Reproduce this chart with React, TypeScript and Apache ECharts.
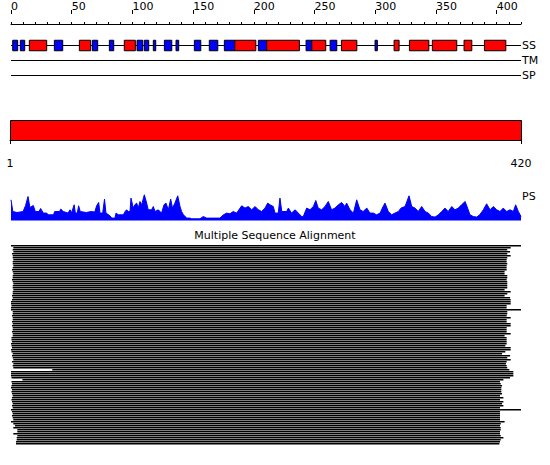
import React, { useEffect, useRef } from 'react';
import * as echarts from 'echarts';

const FONT = 'DejaVu Sans, sans-serif';

// ---------- data ----------
const seqLength = 420;
const rulerLabels = [0, 50, 100, 150, 200, 250, 300, 350, 400];
const scaleLabels = [1, 420];
const trackNames = ['SS', 'TM', 'SP'];

// secondary structure: helices (red) and strands (blue), residue ranges
const helixStart = [15.1, 56.3, 93.3, 184.3, 210.6, 247.7, 272.1, 315.5, 328.1, 347, 373.1, 389.9];
const helixEnd = [29.4, 65.6, 102.4, 201.6, 237.5, 259.2, 284.8, 319.6, 344.1, 367.1, 379.5, 407.5];
const strandStart = [1.4, 7.7, 35.7, 67, 81, 103.8, 109.8, 117.2, 126.3, 135.9, 151, 163.3, 175.7, 203.7, 243, 262.8, 299.8];
const strandEnd = [5.5, 11.3, 42.6, 71.4, 84.6, 108.5, 113.4, 119.2, 132.4, 138.1, 156.3, 170.3, 184.3, 210.6, 247.7, 268.3, 301.7];

// domain bar
const domainStart = [1];
const domainEnd = [420];

// PS profile
const psPos = [0, 1.5, 5, 10, 12, 14, 15.6, 18.4, 20, 23, 24.4, 26.6, 29.4, 30.7, 35, 36, 40, 41, 43, 47, 48.6, 50, 52, 53, 54.6, 55.7, 57, 62, 66, 69, 70.5, 72.2, 73.3, 75.5, 77, 78.2, 81.5, 83, 85.6, 86.5, 88.4, 92.5, 94, 95.2, 96.6, 98, 98.8, 100.7, 102, 103.5, 104.8, 106.2, 107.6, 109.8, 111.7, 113, 115.8, 117.2, 118.6, 121.3, 124, 126, 127.6, 129.6, 131.5, 133, 135, 137.3, 139.2, 140.5, 142, 144.7, 147.4, 148.8, 155.6, 158.4, 161, 166.6, 172, 175, 177.6, 180.3, 183, 185.8, 190, 192.7, 195.4, 198.2, 201, 203.7, 206.4, 209.2, 211.4, 213.3, 216, 217.4, 220.1, 221.5, 223, 227, 228.4, 231, 234, 236.6, 239.4, 240.7, 243.5, 246.2, 249, 251, 253, 255.8, 258.6, 261.3, 264, 266.8, 269.6, 272.3, 275, 276.4, 279.2, 282, 284.7, 287.4, 290, 293, 295.6, 298.4, 301, 304, 305.8, 308, 310.7, 313.5, 316.2, 319, 321.2, 324.5, 327.8, 330, 332.7, 335.4, 338.2, 341, 343.7, 346.4, 349.2, 352, 354.7, 357.4, 360, 363, 365.6, 368.4, 371, 374, 376, 378, 380.7, 383.5, 386, 389, 391.7, 394.5, 397.2, 400, 402.7, 405.4, 408.2, 411, 413.7, 415.6, 417.8, 420];
const psVal = [20.7, 9, 8, 9, 15, 24, 13, 15, 9, 9, 12, 7.4, 7.4, 5.7, 5.7, 9, 9, 11.4, 9, 7.4, 10.7, 8, 15.7, 7.4, 7.4, 14.7, 9, 8, 9, 8.5, 14.7, 18, 7.4, 7.4, 21.4, 7.4, 4.7, 2.4, 2.4, 7.4, 5.7, 5.7, 9, 10.7, 9, 9, 22.4, 12.4, 15.7, 17.4, 12.4, 19, 15.7, 25.7, 17.4, 10.7, 10.7, 14, 9, 10.7, 7.4, 15.7, 17.4, 10.7, 21.4, 12.4, 17.4, 24.7, 14, 9, 5.7, 2.4, 2.4, 1.7, 1.7, 4, 2.4, 2.4, 2.4, 5.7, 7.4, 6.7, 9, 7.4, 14.7, 12.4, 14, 10.7, 14, 10.7, 9, 12.4, 17.4, 15.7, 14, 7.4, 7.4, 22.4, 9, 9, 12.4, 7.4, 10.7, 7.4, 4, 4, 12.4, 10.7, 14, 20, 12.4, 10.7, 14, 19, 10.7, 12.4, 15.7, 18, 14, 17.4, 10.7, 7.4, 20.7, 10.7, 9, 12.4, 7.4, 7.4, 5.7, 7.4, 12.4, 17.4, 9, 5.7, 7.4, 9, 12.4, 14, 24.7, 14, 12.4, 9, 14, 9, 7.4, 4, 3.4, 5.7, 9, 12.4, 9, 14, 10.7, 12.4, 15.7, 19, 12.4, 5.7, 4, 3.4, 5.7, 10.7, 16.7, 10.7, 14, 10.7, 9, 12.4, 9, 10.7, 9, 15.7, 9, 4];

// multiple sequence alignment: aligned range of each sequence
const msaStart = [
  0, 1.9, 1.4, 1.9, 0.8, 1.4, 1.4, 1.9, 1.4, 1.4, 1.9, 1.4, 0.8, 1.4, 1.9, 1.4, 1.4, 0.8, 1.4, 1.9, 1.4, 1.4, 1.9, 1.4, 1.4, 0.8, 1.4, 0.8, 0, 0, 0.4, 0, 0,
  1.4, 1.4, 0.8, 1.4, 1.4, 0.8, 1.4, 0.8, 1.4, 1.4, 0.8, 1.4, 1.4,
  0.4, 0.4, 0.8, 0, 0.4, 0.8, 0, 0.4,
  1.4, 0.8, 1.4, 1.9, 0.8, 1.9, 1.4, 1.9,
  34,
  0, 0, 0, 0.4,
  9.4,
  0.4, 0.8, 0.4, 0, 0.8, 0.4, 0.8, 1.4, 0.8, 0.4, 0.8, 1.4, 0.8, 1.4, 0,
  0.8, 1.4, 0.8, 1.4, 1.9, 0, 1.9, 3.3, 1.9, 5.2, 5.2, 1.9, 5.2, 4.7, 4.7, 4.1, 4.1,
];
const msaEnd = [
  420, 411.5, 408.7, 411, 408.7, 411.5, 408.7, 408.2, 408.2, 408.7, 408.2, 408.2, 408.2, 406.5, 406.5, 408.7, 408.7, 408.2, 408.7, 408.7, 408.7, 408.7, 406.5, 411.5, 408.7, 406.5, 411, 411.5, 411.5, 411.5, 408.2, 408.2, 420,
  408.7, 408.7, 408.2, 411.5, 408.2, 408.2, 411.5, 411.5, 408.2, 408.2, 408.2, 411.5, 406.5,
  408.2, 408.2, 408.2, 408.2, 407.1, 411.5, 411.5, 407.1,
  404.4, 411, 408.7, 411.5, 408.2, 407.6, 408.2, 408.7,
  410.4,
  413.7, 413.7, 413.7, 411,
  405.5,
  402.7, 403.3, 404.4, 403.8, 403.8, 403.8, 404.4, 402.7, 405.5, 402.7, 405.5, 404.4, 405.5, 402.7, 420,
  402.7, 402.7, 402.7, 402.7, 402.7, 406.5, 403.3, 402.7, 403.3, 403.3, 402.7, 402.7, 403.3, 405.5, 403.3, 402.7, 402.2,
];

// ---------- helpers ----------
const segmentSeries = (starts: number[], ends: number[], color: string) => ({
  type: 'custom',
  xAxisIndex: 2,
  yAxisIndex: 1,
  data: starts.map((s, i) => [s, ends[i], 0]),
  encode: { x: [0, 1], y: 2 },
  renderItem: (params: any, api: any) => {
    const a = api.coord([api.value(0), api.value(2)]);
    const b = api.coord([api.value(1), api.value(2)]);
    const h = api.size([0, 1])[1] * 0.7;
    return {
      type: 'rect',
      shape: { x: a[0], y: a[1] - h / 2, width: b[0] - a[0], height: h },
      style: { fill: color, stroke: '#000', lineWidth: 1 },
    };
  },
});

const option: any = {
  animation: false,
  backgroundColor: '#ffffff',
  textStyle: { fontFamily: FONT },
  title: {
    text: 'Multiple Sequence Alignment',
    left: 'center',
    top: 230,
    padding: 0,
    textStyle: { fontSize: 11, fontWeight: 'normal', color: '#000', fontFamily: FONT },
  },
  graphic: [
    { type: 'text', left: 522, top: 191, style: { text: 'PS', fill: '#000', font: '11px DejaVu Sans' } },
  ],
  grid: [
    { left: 11, width: 510, top: 14, height: 10 },
    { left: 11, width: 510, top: 38, height: 45 },
    { left: 10, width: 511, top: 120, height: 20 },
    { left: 11, width: 510, top: 194, height: 26.5 },
    { left: 11, width: 510, top: 244, height: 200 },
  ],
  xAxis: [
    {
      type: 'value', gridIndex: 0, position: 'top', min: 0, max: seqLength, interval: 10,
      axisLine: { show: true, lineStyle: { color: '#000', width: 1 } },
      axisTick: { show: true, length: 2, lineStyle: { color: '#000' } },
      axisLabel: { show: false }, splitLine: { show: false },
    },
    {
      type: 'value', gridIndex: 0, position: 'top', min: 0, max: seqLength,
      axisLine: { show: false },
      axisTick: { show: true, length: 4, customValues: rulerLabels, lineStyle: { color: '#000' } },
      axisLabel: { show: true, customValues: rulerLabels, align: 'left', margin: 2, fontSize: 11, color: '#000', fontFamily: FONT },
      splitLine: { show: false },
    },
    { type: 'value', gridIndex: 1, min: 0, max: seqLength, show: false },
    {
      type: 'value', gridIndex: 2, position: 'bottom', offset: 11, min: 1, max: seqLength,
      axisLine: { show: true, lineStyle: { color: '#000', width: 1 } },
      axisTick: { show: true, length: 4, customValues: scaleLabels, lineStyle: { color: '#000' } },
      axisLabel: { show: true, customValues: scaleLabels, margin: 7, fontSize: 11, color: '#000', fontFamily: FONT },
      splitLine: { show: false },
    },
    { type: 'value', gridIndex: 3, min: 0, max: seqLength, show: false },
    { type: 'value', gridIndex: 4, min: 0, max: seqLength, show: false },
  ],
  yAxis: [
    { type: 'value', gridIndex: 0, show: false, min: 0, max: 1 },
    { type: 'category', gridIndex: 1, show: false, data: trackNames, inverse: true },
    { type: 'value', gridIndex: 2, show: false, min: 0, max: 1 },
    { type: 'value', gridIndex: 3, show: false, min: 0, max: 26.5 },
    { type: 'value', gridIndex: 4, show: false, min: 0, max: msaStart.length, inverse: true },
  ],
  series: [
    {
      type: 'custom',
      xAxisIndex: 2,
      yAxisIndex: 1,
      data: trackNames.map((_, i) => [0, i]),
      encode: { x: 0, y: 1 },
      renderItem: (params: any, api: any) => {
        const i = api.value(1);
        const a = api.coord([0, i]);
        const b = api.coord([seqLength, i]);
        return {
          type: 'group',
          children: [
            { type: 'line', shape: { x1: a[0], y1: a[1], x2: b[0], y2: b[1] }, style: { stroke: '#000', lineWidth: 1 } },
            {
              type: 'text', x: b[0] + 1, y: b[1],
              style: { text: trackNames[params.dataIndex], fill: '#000', font: '11px DejaVu Sans', align: 'left', verticalAlign: 'middle' },
            },
          ],
        };
      },
    },
    segmentSeries(strandStart, strandEnd, '#0000ff'),
    segmentSeries(helixStart, helixEnd, '#ff0000'),
    {
      type: 'custom',
      xAxisIndex: 3,
      yAxisIndex: 2,
      data: domainStart.map((s, i) => [s, domainEnd[i]]),
      encode: { x: [0, 1] },
      renderItem: (params: any, api: any) => {
        const a = api.coord([api.value(0), 1]);
        const b = api.coord([api.value(1), 0]);
        return {
          type: 'rect',
          shape: { x: a[0] + 0.5, y: a[1] + 0.5, width: b[0] - a[0], height: b[1] - a[1] },
          style: { fill: '#ff0000', stroke: '#000', lineWidth: 1 },
        };
      },
    },
    {
      type: 'line',
      xAxisIndex: 4,
      yAxisIndex: 3,
      data: psPos.map((p, i) => [p, psVal[i]]),
      symbol: 'none',
      silent: true,
      lineStyle: { color: '#0000ff', width: 1 },
      itemStyle: { color: '#0000ff' },
      areaStyle: { color: '#0000ff', opacity: 1 },
    },
    {
      type: 'custom',
      xAxisIndex: 5,
      yAxisIndex: 4,
      data: msaStart.map((s, i) => [s, msaEnd[i], i]),
      encode: { x: [0, 1], y: 2 },
      renderItem: (params: any, api: any) => {
        const row = api.value(2);
        const a = api.coord([api.value(0), row + 0.5]);
        const b = api.coord([api.value(1), row + 1.25]);
        return {
          type: 'rect',
          shape: { x: a[0], y: a[1], width: b[0] - a[0], height: b[1] - a[1] },
          style: { fill: '#000' },
        };
      },
    },
  ],
};

export default function App() {
  const ref = useRef<HTMLDivElement>(null);
  useEffect(() => {
    const chart = echarts.init(ref.current!, null, { renderer: 'svg' });
    chart.setOption(option);
    return () => chart.dispose();
  }, []);
  return (
    <div
      ref={ref}
      style={{ position: 'absolute', left: 0, top: 0, width: 550, height: 465, background: '#fff' }}
    />
  );
}
